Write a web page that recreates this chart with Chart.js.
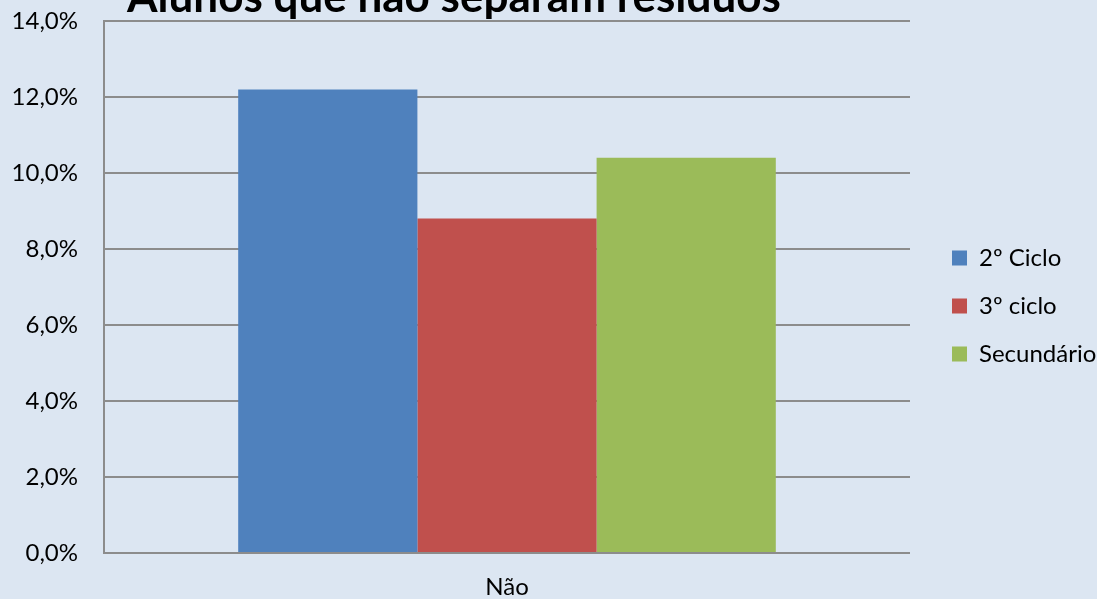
<!DOCTYPE html>
<html>
<head>
<meta charset="utf-8">
<script src="https://cdn.jsdelivr.net/npm/chart.js@4/dist/chart.umd.min.js"></script>
<style>
  html, body { margin: 0; padding: 0; background: #dce6f2; }
  #wrap { width: 1097px; height: 599px; }
</style>
</head>
<body>
<div id="wrap"><canvas id="chart"></canvas></div>
<script>
// Data
const chartTitle = 'Alunos que não separam resíduos';
const categories = ['Não'];
const seriesNames = ['2º Ciclo', '3º ciclo', 'Secundário'];
const cicloDois = [12.2];
const cicloTres = [8.8];
const secundario = [10.4];
const seriesColors = ['#4f81bd', '#c0504d', '#9bbb59'];
const yTicks = [0, 2, 4, 6, 8, 10, 12, 14];

const gridColor = '#8c8c8c';

// Title sits half outside the top edge, so draw it ourselves
const titlePlugin = {
  id: 'cutTitle',
  afterDraw(chart) {
    const c = chart.ctx;
    c.save();
    c.font = 'bold 44px Lato';
    c.fillStyle = '#000';
    c.textAlign = 'center';
    c.textBaseline = 'alphabetic';
    c.fillText(chartTitle, 454, 12);
    c.restore();
  }
};

const ctx = document.getElementById('chart').getContext('2d');

let chart = new Chart(ctx, {
  type: 'bar',
  data: {
    labels: categories,
    datasets: [cicloDois, cicloTres, secundario].map((vals, i) => ({
      label: seriesNames[i],
      data: vals,
      backgroundColor: seriesColors[i],
      borderWidth: 0,
      categoryPercentage: 0.667,
      barPercentage: 1
    }))
  },
  options: {
    responsive: true,
    maintainAspectRatio: false,
    animation: false,
    layout: { padding: { top: 13, left: 0, right: 0, bottom: 0 } },
    plugins: {
      title: { display: false },
      tooltip: { enabled: false },
      legend: {
        position: 'right',
        maxWidth: 169,
        labels: {
          boxWidth: 15,
          boxHeight: 15,
          padding: 24,
          color: '#000',
          font: { family: 'Lato', size: 24 }
        }
      }
    },
    scales: {
      x: {
        grid: { display: false },
        border: { display: false },
        ticks: {
          color: '#000',
          padding: 12,
          font: { family: 'Lato', size: 24 }
        },
        afterFit: (s) => { s.height = 46; }
      },
      y: {
        min: 0,
        max: 14,
        afterBuildTicks: (s) => { s.ticks = yTicks.map(v => ({ value: v })); },
        grid: {
          color: gridColor,
          lineWidth: 2,
          drawTicks: true,
          tickLength: 19.4,
          tickColor: 'rgba(0,0,0,0)'
        },
        border: { color: gridColor, width: 2 },
        ticks: {
          color: '#000',
          padding: 6.6,
          font: { family: 'Lato', size: 24 },
          callback: (v) => v.toFixed(1).replace('.', ',') + '%'
        },
        afterFit: (s) => { s.width = 104; }
      },
      // empty spacer between plot and legend
      gap: {
        type: 'linear',
        position: 'right',
        grid: { display: false },
        border: { display: false },
        ticks: { display: false },
        afterFit: (s) => { s.width = 18; }
      }
    }
  },
  plugins: [titlePlugin]
});
</script>
</body>
</html>
